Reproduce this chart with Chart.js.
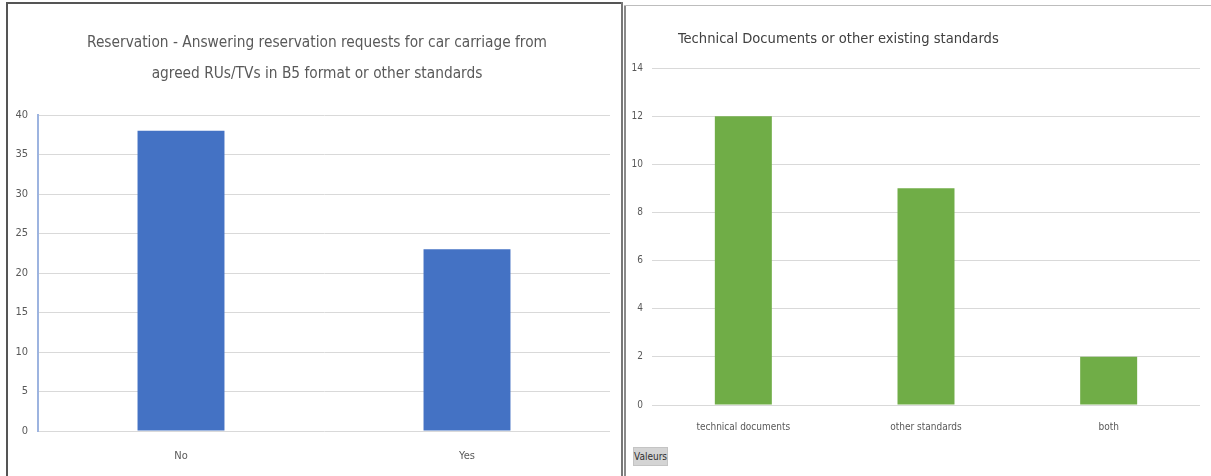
<!DOCTYPE html>
<html>
<head>
<meta charset="utf-8">
<script src="https://cdn.jsdelivr.net/npm/chart.js@4/dist/chart.umd.min.js"></script>
<style>
  html, body { margin: 0; padding: 0; background: #fff; }
  body { width: 1211px; height: 476px; position: relative; overflow: hidden; }
  canvas { position: absolute; }
  #c1 { left: 12px; top: 0; }
  #c2 { left: 622px; top: 0; }
  .b { position: absolute; pointer-events: none; }
  #rtitle { position: absolute; left: 678px; top: 29px; font: 14.6px 'Liberation Sans Narrow', 'DejaVu Sans Condensed', sans-serif; color: #404040; white-space: nowrap; }
  #valeurs { position: absolute; left: 633px; top: 447px; width: 35px; height: 19px; background: #d4d4d4; border: 1px solid #c4c4c4; box-sizing: border-box; font: 10px 'Liberation Sans Narrow', 'DejaVu Sans Condensed', sans-serif; color: #303030; line-height: 17px; text-align: center; }
</style>
</head>
<body>
<canvas id="c1" width="610" height="476"></canvas>
<canvas id="c2" width="589" height="476"></canvas>
<div class="b" style="left:6px;top:2px;width:2px;height:474px;background:#555"></div>
<div class="b" style="left:6px;top:2px;width:617px;height:2px;background:#555"></div>
<div class="b" style="left:621px;top:2px;width:2px;height:474px;background:#777"></div>
<div class="b" style="left:624px;top:5px;width:2px;height:471px;background:#8a8a8a"></div>
<div class="b" style="left:624px;top:5px;width:587px;height:1px;background:#bdbdbd"></div>
<div id="rtitle">Technical Documents or other existing standards</div>
<div id="valeurs">Valeurs</div>
<script>
const leftTitle = ['Reservation - Answering reservation requests for car carriage from', 'agreed RUs/TVs in B5 format or other standards'];
const leftCategories = ['No', 'Yes'];
const leftValues = [38, 23];
const leftTicks = [0, 5, 10, 15, 20, 25, 30, 35, 40];

const rightCategories = ['technical documents', 'other standards', 'both'];
const rightValues = [12, 9, 2];
const rightTicks = [0, 2, 4, 6, 8, 10, 12, 14];

const FONT = "'Liberation Sans Narrow', 'DejaVu Sans Condensed', sans-serif";
const GRAY = '#595959';

new Chart(document.getElementById('c1'), {
  type: 'bar',
  data: { labels: leftCategories, datasets: [{ data: leftValues, backgroundColor: '#4472C4', borderWidth: 0, categoryPercentage: 1, barPercentage: 0.304 }] },
  options: {
    responsive: false, animation: false,
    layout: { padding: { left: 0, right: 0, top: 0, bottom: 0 } },
    plugins: {
      legend: { display: false }, tooltip: { enabled: false },
      title: { display: true, text: leftTitle, color: GRAY, font: { family: FONT, size: 15.3, weight: 'normal', lineHeight: 2.03 }, padding: { top: 27.5, bottom: 25.4 } }
    },
    scales: {
      x: {
        grid: { display: false },
        border: { display: false },
        ticks: { color: GRAY, font: { family: FONT, size: 11 }, padding: 11 },
        afterFit: s => { s.height = 45; }
      },
      y: {
        min: 0, max: 40,
        afterBuildTicks: s => { s.ticks = leftTicks.map(v => ({ value: v })); },
        grid: { color: '#d9d9d9', lineWidth: 1, drawTicks: false },
        border: { display: true, color: '#9db4e0', width: 2 },
        ticks: { color: GRAY, font: { family: FONT, size: 11 }, padding: 10 },
        afterFit: s => { s.width = 26; }
      },
      yRight: {
        type: 'linear', position: 'right', min: 0, max: 1,
        grid: { display: false, drawTicks: false },
        border: { display: false },
        ticks: { display: false },
        afterFit: s => { s.width = 12; }
      }
    }
  }
});

new Chart(document.getElementById('c2'), {
  type: 'bar',
  data: { labels: rightCategories, datasets: [{ data: rightValues, backgroundColor: '#70AD47', borderWidth: 0, categoryPercentage: 1, barPercentage: 0.312 }] },
  options: {
    responsive: false, animation: false,
    layout: { padding: { left: 0, right: 11, top: 68, bottom: 0 } },
    plugins: { legend: { display: false }, tooltip: { enabled: false }, title: { display: false } },
    scales: {
      x: {
        grid: { display: false },
        border: { display: false },
        ticks: { color: GRAY, font: { family: FONT, size: 10 }, padding: 8 },
        afterFit: s => { s.height = 71; }
      },
      y: {
        min: 0, max: 14,
        afterBuildTicks: s => { s.ticks = rightTicks.map(v => ({ value: v })); },
        grid: { color: '#d9d9d9', lineWidth: 1, drawTicks: false },
        border: { display: false },
        ticks: { color: GRAY, font: { family: FONT, size: 10 }, padding: 9 },
        afterFit: s => { s.width = 30; }
      }
    }
  }
});
</script>
</body>
</html>
